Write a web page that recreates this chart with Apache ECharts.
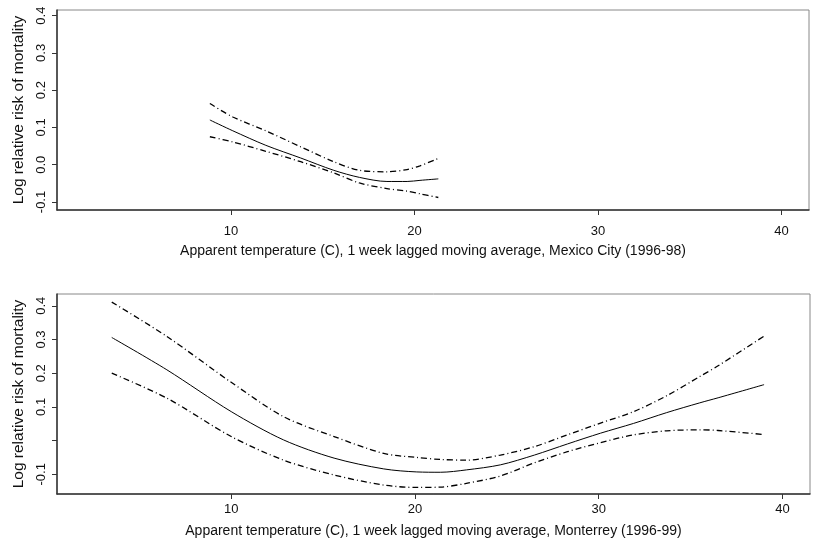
<!DOCTYPE html>
<html>
<head>
<meta charset="utf-8">
<script src="https://cdn.jsdelivr.net/npm/echarts@6/dist/echarts.min.js"></script>
<style>
  html, body { margin: 0; padding: 0; background: #fff; }
  #chart { width: 818px; height: 539px; }
</style>
</head>
<body>
<div id="chart"></div>
<script>
// Mexico City (1996-98)
const mexTemp  = [8.85, 10.1, 11.9, 13.8, 15.6, 17.0, 18.5, 19.6, 20.3, 21.3]
const mexFit   = [0.120, 0.091, 0.052, 0.018, -0.015, -0.034, -0.045, -0.045, -0.042, -0.038]
const mexUpper = [0.164, 0.128, 0.091, 0.048, 0.008, -0.015, -0.019, -0.013, -0.003, 0.017]
const mexLower = [0.075, 0.061, 0.036, 0.008, -0.022, -0.049, -0.064, -0.071, -0.078, -0.088]

// Monterrey (1996-99)
const monTemp  = [3.5, 6.5, 10, 12.85, 15.6, 18.3, 20.1, 21.4, 22.8, 24.65, 26.5, 28.3, 30.1, 31.9, 33.7, 35.5, 36.5, 39.0]
const monFit   = [0.306, 0.210, 0.086, 0.002, -0.052, -0.084, -0.093, -0.094, -0.087, -0.072, -0.043, -0.010, 0.022, 0.051, 0.083, 0.112, 0.127, 0.166]
const monUpper = [0.411, 0.309, 0.173, 0.071, 0.012, -0.038, -0.050, -0.056, -0.058, -0.043, -0.018, 0.017, 0.052, 0.086, 0.133, 0.190, 0.222, 0.310]
const monLower = [0.200, 0.126, 0.012, -0.058, -0.102, -0.132, -0.139, -0.138, -0.127, -0.105, -0.066, -0.033, -0.006, 0.017, 0.029, 0.032, 0.030, 0.018]

// ticks
const xTicks = [10, 20, 30, 40]
const yTicks = [-0.1, 0.0, 0.1, 0.2, 0.3, 0.4]
const yLabelsTop    = ['-0.1', '0.0', '0.1', '0.2', '0.3', '0.4']
const yLabelsBottom = ['-0.1', '', '0.1', '0.2', '0.3', '0.4']

const xTitles = [
  'Apparent temperature (C), 1 week lagged moving average, Mexico City (1996-98)',
  'Apparent temperature (C), 1 week lagged moving average, Monterrey (1996-99)'
]
const yTitle = 'Log relative risk of mortality'

const font = 'Liberation Sans, Arial, Helvetica, sans-serif'
const dotdash = [6, 3, 1, 3]

const pairs = (xs, ys) => xs.map((x, i) => [x, ys[i]])

function xAxis(idx, title, labelMargin, nameGap) {
  return {
    gridIndex: idx, type: 'value', min: 0.52, max: 41.5,
    name: title, nameLocation: 'middle', nameGap: nameGap,
    nameTextStyle: { fontFamily: font, fontSize: 14, color: '#111' },
    axisLine: { show: true, onZero: false, lineStyle: { color: '#333', width: 1.5 } },
    axisTick: { show: true, length: 5, customValues: xTicks, lineStyle: { color: '#333' } },
    axisLabel: { customValues: xTicks, margin: labelMargin, fontFamily: font, fontSize: 13, color: '#111' },
    splitLine: { show: false }
  }
}

function yAxis(idx, min, max, labels) {
  return {
    gridIndex: idx, type: 'value', min: min, max: max,
    name: yTitle, nameLocation: 'middle', nameGap: 29, nameRotate: 90,
    nameTextStyle: { fontFamily: font, fontSize: 15.5, color: '#111' },
    axisLine: { show: true, onZero: false, lineStyle: { color: '#333', width: 1.5 } },
    axisTick: { show: true, length: 5, customValues: yTicks, lineStyle: { color: '#333' } },
    axisLabel: {
      customValues: yTicks, rotate: 90, margin: 9,
      fontFamily: font, fontSize: 13, color: '#111',
      formatter: v => labels[yTicks.findIndex(t => Math.abs(t - v) < 1e-6)] ?? ''
    },
    splitLine: { show: false }
  }
}

function line(idx, xs, ys, dashed) {
  return {
    type: 'line', xAxisIndex: idx, yAxisIndex: idx,
    data: pairs(xs, ys),
    showSymbol: false, smooth: 0.3,
    lineStyle: { color: '#000', width: dashed ? 1.3 : 1, type: dashed ? dotdash : 'solid' },
    silent: true, animation: false
  }
}

const chart = echarts.init(document.getElementById('chart'), null, { renderer: 'canvas' })
chart.setOption({
  backgroundColor: '#fff',
  animation: false,
  grid: [
    { left: 57, top: 10, width: 752, height: 200, show: true, borderColor: '#888', borderWidth: 1 },
    { left: 57, top: 294, width: 753, height: 200, show: true, borderColor: '#888', borderWidth: 1 }
  ],
  xAxis: [
    xAxis(0, xTitles[0], 15, 34),
    xAxis(1, xTitles[1], 9, 30)
  ],
  yAxis: [
    yAxis(0, -0.1215, 0.415, yLabelsTop),
    yAxis(1, -0.1585, 0.435, yLabelsBottom)
  ],
  series: [
    line(0, mexTemp, mexFit, false),
    line(0, mexTemp, mexUpper, true),
    line(0, mexTemp, mexLower, true),
    line(1, monTemp, monFit, false),
    line(1, monTemp, monUpper, true),
    line(1, monTemp, monLower, true)
  ]
})
</script>
</body>
</html>
